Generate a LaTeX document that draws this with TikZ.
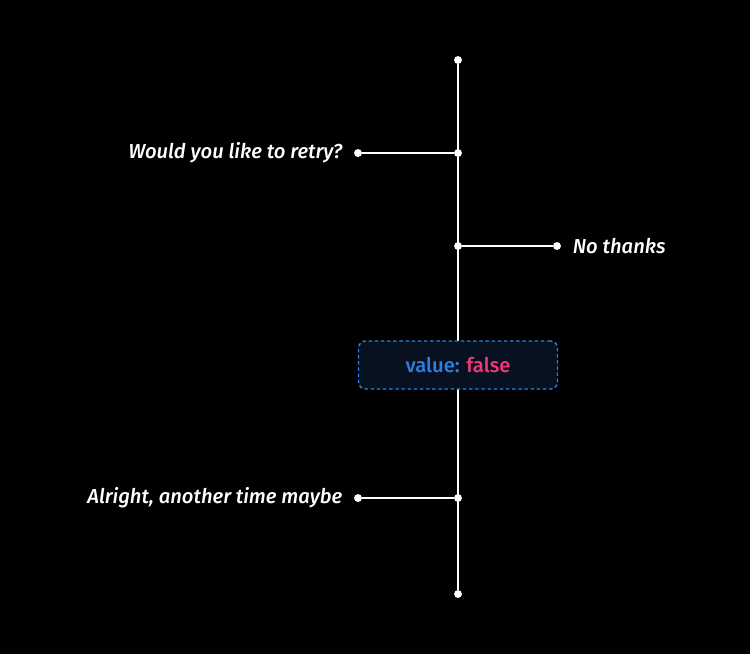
\documentclass[tikz,border=0pt]{standalone}
\usepackage{fontspec}
\setmainfont{Fira Sans}[UprightFont=* Medium, ItalicFont=* Medium Italic]
\usetikzlibrary{positioning}
\definecolor{valblue}{HTML}{2F7FE0}
\definecolor{valpink}{HTML}{F0387A}
\definecolor{boxfill}{HTML}{07111F}
\begin{document}
\begin{tikzpicture}[x=0.02cm, y=-0.02cm,
        dot/.style={circle, fill=white, inner sep=0pt, minimum size=4.5pt},
        wire/.style={draw=white, line width=1.3pt},
        answer/.style={font=\fontsize{11.5}{14}\selectfont\itshape, text=white},
        valuebox/.style={rectangle, rounded corners=4pt, draw=valblue, line width=0.8pt, dash pattern=on 2pt off 1.5pt, fill=boxfill, minimum width=199*0.02cm, minimum height=48*0.02cm, font=\fontsize{11.5}{14}\selectfont}
    ]
    \fill[black] (0,0) rectangle (750,654);
    \useasboundingbox (0,0) rectangle (750,654);

    % spine
    \node[dot] (top) at (458,60) {};
    \node[dot] (ask) at (458,153) {};
    \node[dot] (reply) at (458,246) {};
    \node[dot] (end) at (458,498) {};
    \node[dot] (bottom) at (458,594) {};
    \draw[wire] (top) -- (bottom);

    % branches
    \node[dot] (askend) at (358,153) {};
    \node[dot] (replyend) at (557,246) {};
    \node[dot] (endend) at (358,498) {};
    \draw[wire] (askend) -- (ask);
    \draw[wire] (reply) -- (replyend);
    \draw[wire] (endend) -- (end);

    % labels
    \node[answer, left=3pt of askend] {Would you like to retry?};
    \node[answer, right=3pt of replyend] {No thanks};
    \node[answer, left=3pt of endend] {Alright, another time maybe};

    % value box
    \node[valuebox] (value) at (458,365) {\textcolor{valblue}{value:} \textcolor{valpink}{false}};
\end{tikzpicture}
\end{document}
